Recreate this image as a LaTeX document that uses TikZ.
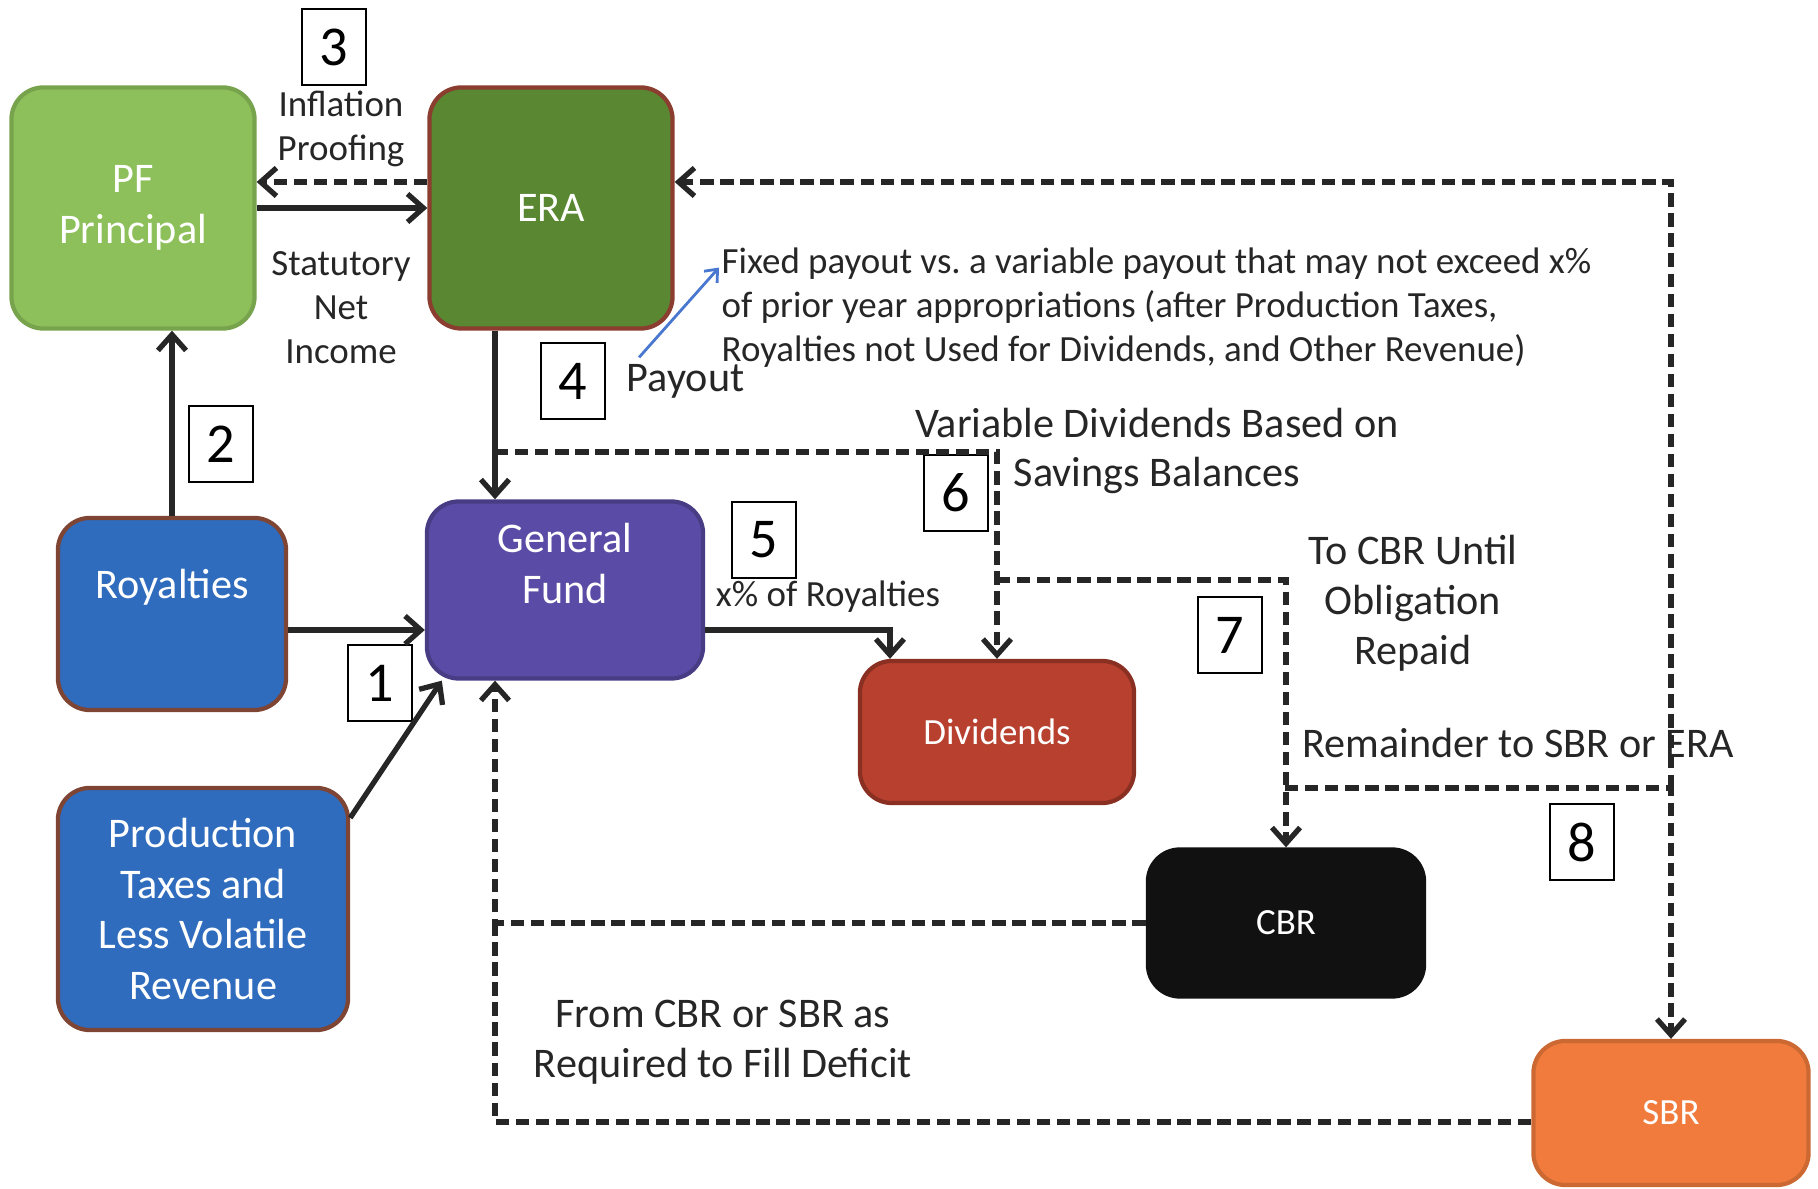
\documentclass[tikz,border=0pt]{standalone}
\usepackage{fontspec}
\setmainfont{Carlito}
\usepackage{xcolor}
\usetikzlibrary{positioning}
\usetikzlibrary{arrows.meta}
\definecolor{pfgreen}{HTML}{8DC05B}
\definecolor{eragreen}{HTML}{5A8731}
\definecolor{royblue}{HTML}{2F6CBE}
\definecolor{gfpurple}{HTML}{5A4CA6}
\definecolor{divred}{HTML}{B8402F}
\definecolor{cbrblack}{HTML}{111111}
\definecolor{sbrorange}{HTML}{F07B3C}
\definecolor{rimbrown}{HTML}{7E4434}
\definecolor{pointerblue}{HTML}{4A78D0}

\begin{document}
\begin{tikzpicture}[x=0.01cm, y=-0.01cm, align=center, node distance=0.2cm, auto,
  fund/.style={draw=rimbrown, line width=1.2pt, rounded corners=0.32cm, text=white,
    font=\fontsize{12}{14.4}\selectfont},
  smallfund/.style={fund, font=\fontsize{10.5}{12.6}\selectfont},
  num/.style={draw, line width=0.6pt, fill=white, minimum width=0.64cm,
    minimum height=0.76cm, inner sep=0pt, font=\fontsize{16}{16}\selectfont},
  lbl/.style={text=black!85, inner sep=0pt, font=\fontsize{10.5}{12.5}\selectfont},
  biglbl/.style={text=black!85, inner sep=0pt, font=\fontsize{12}{14.2}\selectfont},
  flow/.style={draw=black!85, line width=1.5pt, -{Straight Barb[length=4.5pt,width=8pt]}},
  dflow/.style={flow, dash pattern=on 3.8pt off 1.9pt},
  pointer/.style={draw=pointerblue, line width=0.8pt, -{Straight Barb[length=3pt,width=5pt]}}]
  \useasboundingbox (0,0) rectangle (1818,1189);

  % funds and accounts
  \node[fund, fill=pfgreen, draw=pfgreen!85!black, minimum width=2.43cm, minimum height=2.41cm] (pf) at (133,208) {PF\\Principal};
  \node[fund, fill=eragreen, draw=rimbrown!90!red, minimum width=2.43cm, minimum height=2.41cm] (era) at (551,208) {ERA};
  \node[fund, fill=royblue, minimum width=2.28cm, minimum height=1.92cm, text height=0.3cm, text depth=0.61cm] (roy) at (172,614) {Royalties};
  \node[fund, fill=gfpurple, draw=gfpurple!80!black, minimum width=2.76cm, minimum height=1.77cm, text height=0.85cm, text depth=0.59cm] (gf) at (565,590) {General\\Fund};
  \node[fund, fill=royblue, minimum width=2.9cm, minimum height=2.42cm] (prod) at (203,909) {Production\\Taxes and\\Less Volatile\\Revenue};
  \node[smallfund, fill=divred, draw=divred!75!black, minimum width=2.74cm, minimum height=1.42cm] (div) at (997,732) {Dividends};
  \node[smallfund, fill=cbrblack, draw=cbrblack, minimum width=2.76cm, minimum height=1.47cm] (cbr) at (1286,923) {CBR};
  \node[smallfund, fill=sbrorange, draw=sbrorange!85!black, minimum width=2.75cm, minimum height=1.44cm] (sbr) at (1671,1113) {SBR};

  % step numbers
  \node[num] (n1) at (380,683) {1};
  \node[num] (n2) at (221,444) {2};
  \node[num] (n3) at (334,47) {3};
  \node[num] (n4) at (573,381) {4};
  \node[num] (n5) at (764,540) {5};
  \node[num] (n6) at (956,493) {6};
  \node[num] (n7) at (1230,635) {7};
  \node[num] (n8) at (1582,842) {8};

  % labels
  \node[lbl, below=0.04cm of n3, xshift=0.07cm] (infl) {Inflation\\Proofing};
  \node[lbl] (stat) at (341,308) {Statutory\\Net\\Income};
  \node[biglbl, right=0.2cm of n4] (payout) {Payout};
  \node[lbl, align=left, anchor=west] (fixed) at (721,308) {Fixed payout vs.\ a variable payout that may not exceed x\%\\of prior year appropriations (after Production Taxes,\\Royalties not Used for Dividends, and Other Revenue)};
  \node[biglbl] (vardiv) at (1157,451) {Variable Dividends Based on\\Savings Balances};
  \node[lbl] (xroy) at (828,597) {x\% of Royalties};
  \node[biglbl] (tocbr) at (1413,603) {To CBR Until\\Obligation\\Repaid};
  \node[biglbl] (rem) at (1518,743) {Remainder to SBR or ERA};
  \node[biglbl] (fromr) at (723,1042) {From CBR or SBR as\\Required to Fill Deficit};

  % branch points
  \coordinate (tap) at (495,452);
  \coordinate (tap7) at (997,580);
  \coordinate (tap8) at (1285,788);

  \draw[flow] (pf.east) -- (era.west);
  \draw[dflow] ([yshift=0.26cm]era.west) -- ([yshift=0.26cm]pf.east);
  \draw[flow] (roy.north) -- (roy.north |- pf.south);
  \draw[flow] (era.south -| tap) -- (gf.north -| tap);
  \draw[flow] ([yshift=-0.16cm]roy.east) -- ([yshift=-0.16cm]roy.east -| gf.west);
  \draw[flow] ([yshift=-0.32cm]prod.north east) -- ([xshift=0.17cm]gf.south west);
  \draw[flow] ([yshift=-0.4cm]gf.east) -| ([xshift=-1.07cm]div.north);
  \draw[pointer] ([xshift=0.13cm,yshift=0.06cm]payout.north west) -- ([xshift=-0.02cm,yshift=-0.2cm]fixed.north west);

  \draw[dflow] (tap) -| (div.north);
  \draw[dflow] (tap7) -| (cbr.north);
  \draw[dflow] (tap8) -| (sbr.north);
  \draw[dflow] (tap8 -| sbr.north) |- ([yshift=0.26cm]era.east);
  \draw[dflow] (cbr.west) -| (gf.south -| tap);
  \draw[dflow, -] ([yshift=-0.09cm]sbr.west) -| (cbr.west -| tap);
\end{tikzpicture}
\end{document}
